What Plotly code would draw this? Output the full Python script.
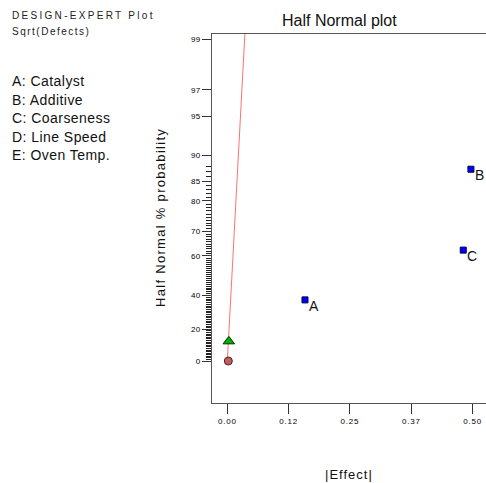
import plotly.graph_objects as go
from statistics import NormalDist

# ---- data ----
effect_labels = ["A", "B", "C"]
effect_values = [0.157, 0.4925, 0.477]
effect_probs = [37.5, 87.5, 62.5]

error_effect = [0.003]
error_prob = [12.5]

zero_effect = [0.002]
zero_prob = [0.0]

line_effect = [0.0, 0.0355]
line_prob = [0.0, 99.11]

x_tickvals = [0.0, 0.124, 0.248, 0.372, 0.496]
x_ticktext = ["0.00", "0.12", "0.25", "0.37", "0.50"]

y_major = [0, 20, 40, 60, 70, 80, 85, 90, 95, 97, 99]
y_minor = [p for p in range(1, 89) if p not in y_major]

factor_legend = ["A: Catalyst", "B: Additive", "C: Coarseness", "D: Line Speed", "E: Oven Temp."]

nd = NormalDist()
def hz(p):
    return nd.inv_cdf(0.5 + p / 200.0)

# ---- geometry helpers (pixel -> paper) ----
L, R, T, B = 212, 486, 34, 403
W, H = 486, 483
def px(x):
    return (x - L) / (R - L)
def py(y):
    return (B - y) / (B - T)

FONT = "Liberation Sans, Arial, sans-serif"
def sp(txt, s):
    return '<span style="letter-spacing:%spx">%s</span>' % (s, txt)

yr = [-0.336, 2.616]
xr = [-0.031, 0.523]

fig = go.Figure()

fig.add_trace(go.Scatter(x=line_effect, y=[hz(p) for p in line_prob], mode="lines",
                         line=dict(color="#ff7070", width=1), hoverinfo="skip", showlegend=False))

fig.add_trace(go.Scatter(x=zero_effect, y=[hz(p) for p in zero_prob], mode="markers",
                         marker=dict(symbol="circle", size=8, color="#c06060",
                                     line=dict(color="#502020", width=1)), showlegend=False))

fig.add_trace(go.Scatter(x=error_effect, y=[hz(p) for p in error_prob], mode="markers",
                         marker=dict(symbol="triangle-up", size=10, color="#00b000",
                                     line=dict(color="#003000", width=1)), showlegend=False))

fig.add_trace(go.Scatter(x=effect_values, y=[hz(p) for p in effect_probs], mode="markers",
                         marker=dict(symbol="square", size=6, color="#0000ff",
                                     line=dict(color="#000040", width=1)), showlegend=False))

# minor tick overlay axis
fig.add_trace(go.Scatter(x=[None], y=[None], yaxis="y2", showlegend=False, hoverinfo="skip"))

annotations = []
for lab, xv, pv in zip(effect_labels, effect_values, effect_probs):
    annotations.append(dict(x=xv, y=hz(pv), xref="x", yref="y", text=lab, showarrow=False,
                            xanchor="left", yanchor="top", xshift=2, yshift=4,
                            font=dict(family=FONT, size=14, color="#111")))

annotations.append(dict(x=px(339), y=py(20), xref="paper", yref="paper", text="Half Normal plot",
                        showarrow=False, xanchor="center", yanchor="middle",
                        font=dict(family=FONT, size=16, color="#111")))
annotations.append(dict(x=px(349), y=py(474), xref="paper", yref="paper", text=sp("|Effect|", 1),
                        showarrow=False, xanchor="center", yanchor="middle",
                        font=dict(family=FONT, size=13, color="#111")))
annotations.append(dict(x=px(160), y=py(218), xref="paper", yref="paper",
                        text=sp("Half Normal % probability", 1.3), textangle=-90,
                        showarrow=False, xanchor="center", yanchor="middle",
                        font=dict(family=FONT, size=13, color="#111")))
annotations.append(dict(x=px(10), y=py(15.5), xref="paper", yref="paper", text=sp("DESIGN-EXPERT Plot", 2.3),
                        showarrow=False, xanchor="left", yanchor="middle",
                        font=dict(family=FONT, size=10, color="#222")))
annotations.append(dict(x=px(10), y=py(32), xref="paper", yref="paper", text=sp("Sqrt(Defects)", 1.5),
                        showarrow=False, xanchor="left", yanchor="middle",
                        font=dict(family=FONT, size=10, color="#222")))
for i, t in enumerate(factor_legend):
    annotations.append(dict(x=px(10), y=py(81 + 18.6 * i), xref="paper", yref="paper", text=sp(t, 0.45),
                            showarrow=False, xanchor="left", yanchor="middle",
                            font=dict(family=FONT, size=14, color="#111")))

fig.update_layout(
    width=W, height=H,
    margin=dict(l=L, r=W - R, t=T, b=H - B),
    paper_bgcolor="white", plot_bgcolor="white",
    showlegend=False,
    annotations=annotations,
    xaxis=dict(range=xr, tickmode="array", tickvals=x_tickvals,
               ticktext=[sp(t, 0.8) for t in x_ticktext],
               ticks="outside", ticklen=10, tickcolor="#333", tickwidth=1,
               showline=True, linecolor="#555", linewidth=1, mirror=True,
               showgrid=False, zeroline=False,
               tickfont=dict(family=FONT, size=8, color="#000")),
    yaxis=dict(range=yr, tickmode="array", tickvals=[hz(p) for p in y_major],
               ticktext=[sp(str(p), 0.3) for p in y_major],
               ticks="outside", ticklen=9, tickcolor="#333", tickwidth=1,
               showline=True, linecolor="#555", linewidth=1,
               showgrid=False, zeroline=False,
               tickfont=dict(family=FONT, size=8, color="#000")),
    yaxis2=dict(range=yr, overlaying="y", side="left", tickmode="array",
                tickvals=[hz(p) for p in y_minor], ticks="outside", ticklen=5,
                tickcolor="#222", tickwidth=1, showticklabels=False,
                showline=False, showgrid=False, zeroline=False),
)

fig.write_html("out.html", config={"displayModeBar": False},
               post_script="document.body.style.margin='0';document.body.style.overflow='hidden';")
